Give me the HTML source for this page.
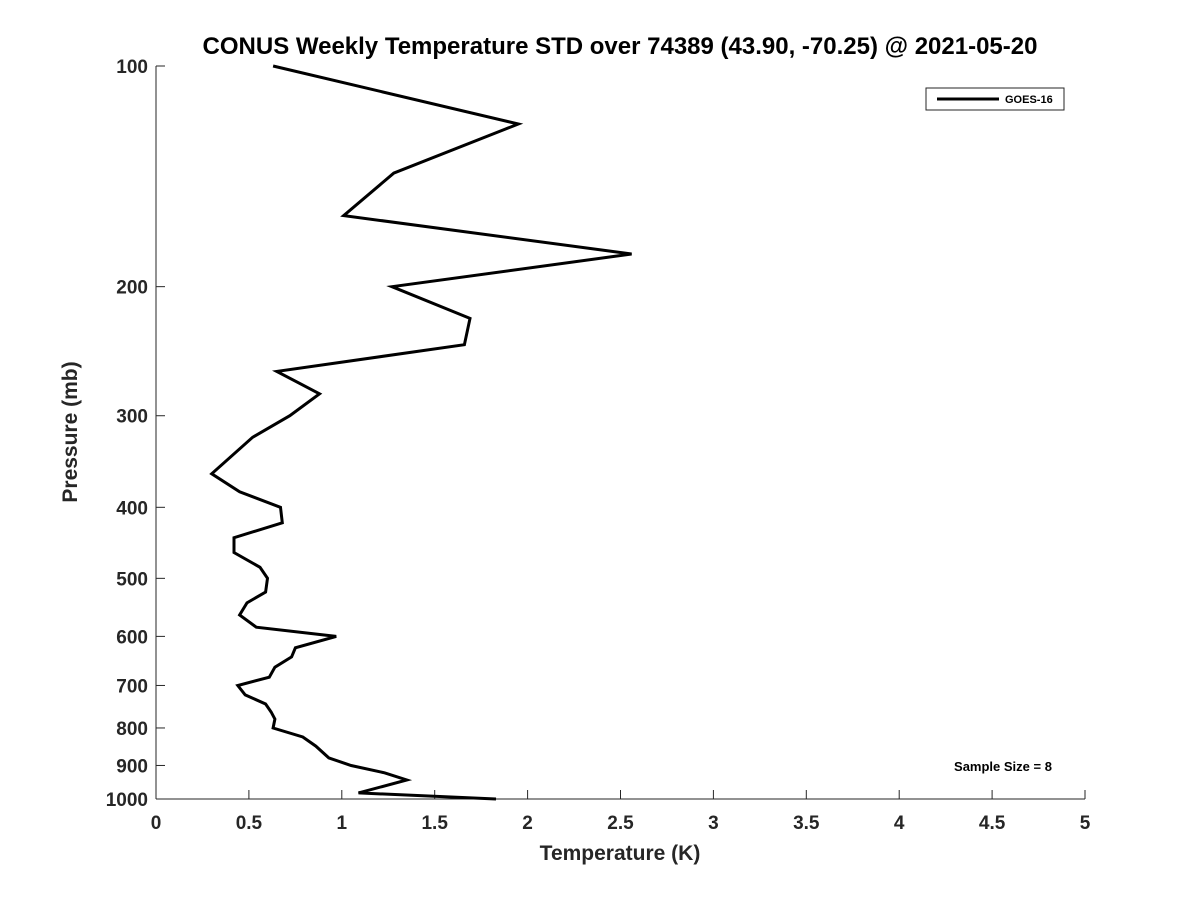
<!DOCTYPE html>
<html><head><meta charset="utf-8"><style>
html,body{margin:0;padding:0;background:#fff;}
svg{display:block;font-family:"Liberation Sans","DejaVu Sans",sans-serif;}
</style></head><body>
<svg id="chart" width="1200" height="900" viewBox="0 0 1200 900">
<rect width="1200" height="900" fill="#fff"/>
<text x="620" y="54" text-anchor="middle" font-size="24" font-weight="bold" fill="#000">CONUS Weekly Temperature STD over 74389 (43.90, -70.25) @ 2021-05-20</text>
<g id="axes"></g>
<g id="series"></g>
<text x="620" y="860" text-anchor="middle" font-size="21" font-weight="bold" fill="#262626">Temperature (K)</text>
<text transform="translate(77,432) rotate(-90)" text-anchor="middle" font-size="21" font-weight="bold" fill="#262626">Pressure (mb)</text>
<g>
<rect x="926" y="88" width="138" height="22" fill="#fff" stroke="#262626" stroke-width="1"/>
<line x1="937" y1="99" x2="999" y2="99" stroke="#000" stroke-width="3"/>
<text x="1005" y="103" font-size="11" font-weight="bold" fill="#000">GOES-16</text>
</g>
<text x="1003" y="771" text-anchor="middle" font-size="13" font-weight="bold" fill="#000">Sample Size = 8</text>
</svg>
<script>
const xTicks=[0,0.5,1,1.5,2,2.5,3,3.5,4,4.5,5];
const xTickLabels=["0","0.5","1","1.5","2","2.5","3","3.5","4","4.5","5"];
const yTicks=[100,200,300,400,500,600,700,800,900,1000];
const yTickLabels=["100","200","300","400","500","600","700","800","900","1000"];
const pressures=[100,120,140,160,180.5,200,221,240,261,280,300,321,360,381,400,420,440,461,483,500,522,540,561,583,600,622,640,661,682,700,721,742,761,778,800,823,847,879,900,921,942,981,1000];
const stdValues=[0.63,1.95,1.28,1.01,2.56,1.27,1.69,1.66,0.65,0.88,0.72,0.52,0.30,0.45,0.67,0.68,0.42,0.42,0.56,0.60,0.59,0.49,0.45,0.54,0.97,0.75,0.73,0.64,0.61,0.44,0.48,0.59,0.62,0.64,0.63,0.79,0.86,0.93,1.05,1.23,1.35,1.09,1.83];
const X0=156,X1=1085,Y0=66,Y1=799;
const xs=v=>X0+(v-0)/(5-0)*(X1-X0);
const ys=p=>Y0+(Math.log10(p)-2)/(3-2)*(Y1-Y0);
const NS="http://www.w3.org/2000/svg";
const axes=document.getElementById('axes');
function mk(tag,attrs,parent){const e=document.createElementNS(NS,tag);for(const k in attrs)e.setAttribute(k,attrs[k]);parent.appendChild(e);return e;}
const xl=mk('line',{x1:X0,y1:Y1,x2:X1,y2:Y1,stroke:'#262626','stroke-width':1},axes);


const yl=mk('line',{x1:X0,y1:Y0,x2:X0,y2:Y1,stroke:'#262626','stroke-width':1},axes);


xTicks.forEach((v,i)=>{
  const x=xs(v);
  mk('line',{x1:x,y1:Y1,x2:x,y2:Y1-9,stroke:'#262626'},axes);
  const t=mk('text',{x:x,y:Y1+30,'text-anchor':'middle','font-size':19,'font-weight':'bold',fill:'#262626'},axes);
  t.textContent=xTickLabels[i];
  
  
});
yTicks.forEach((p,i)=>{
  const y=ys(p);
  mk('line',{x1:X0,y1:y,x2:X0+9,y2:y,stroke:'#262626'},axes);
  const t=mk('text',{x:X0-8,y:y+7,'text-anchor':'end','font-size':19,'font-weight':'bold',fill:'#262626'},axes);
  t.textContent=yTickLabels[i];
  
  
});
const pts=pressures.map((p,i)=>xs(stdValues[i]).toFixed(1)+','+ys(p).toFixed(1)).join(' ');
const line=mk('polyline',{points:pts,fill:'none',stroke:'#000','stroke-width':3,'stroke-linejoin':'miter'},document.getElementById('series'));


</script>
</body></html>
